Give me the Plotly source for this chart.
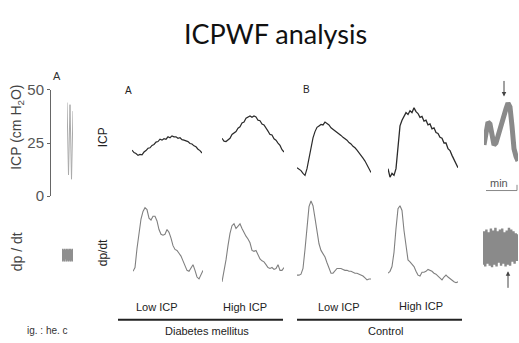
import plotly.graph_objects as go

W, H = 519, 343

# ---------------- data ----------------
TITLE = "ICPWF analysis"
GROUPS = ["Diabetes mellitus", "Control"]
CONDITIONS = ["Low ICP", "High ICP"]
PANEL_LETTERS = ["A", "B"]
LEFT_TICKS = [0, 25, 50]

# ICP waveforms (single pulse, arbitrary units, uniform sampling)
ICP_DM_LOW = [34.5, 32, 31, 29, 30, 29.5, 32.5, 34, 36.5, 37, 39.5, 40.5, 43, 43.5, 46, 45, 46.5, 46,
              48.5, 47.5, 49.5, 48.5, 48.5, 47, 47.5, 45.5, 45, 44, 43.5, 41.5, 41, 39, 38, 35.5, 34, 31.5]
ICP_DM_HIGH = [47, 44, 43.5, 45.5, 47, 51, 53, 54, 57.5, 59, 63, 64, 68, 69, 70.5, 69, 70.5, 69.5,
               66, 65.5, 62, 61, 57, 54.5, 51, 50.5, 46.5, 45, 42, 39.5, 35, 32.5]
ICP_CTRL_LOW = [16, 14.5, 13, 10, 8, 15, 27, 38, 47.5, 54, 58.5, 60, 61.5, 61, 64, 62.5, 61, 58, 56.5,
                55, 53, 51.5, 50, 48, 46.5, 45, 42.5, 41, 38.5, 37, 34.5, 32, 29.5, 26, 23, 19.5, 15, 11]
ICP_CTRL_HIGH = [15, 6, 10, 8, 15, 40, 60, 66, 70, 74, 72, 76, 74, 79, 75, 73, 69, 70, 65, 66, 61, 62,
                 57, 58, 53, 52, 48, 47, 42, 42, 36, 34, 29, 25, 20, 16]

# dp/dt waveforms
DPDT_DM_LOW = [16, 20, 40, 59, 71, 79, 83, 81, 72, 70, 74, 74, 69, 60, 55, 54, 55, 60, 57, 51, 43, 39,
               38, 35, 32, 27, 22, 17, 16, 20, 23, 17, 10, 8, 13, 17]
DPDT_DM_HIGH = [5, 15, 28, 43, 56, 64, 66, 61, 63, 66, 61, 56, 53, 50, 46, 38, 37, 38, 34, 29, 27, 26,
                23, 20, 19, 20, 18, 19, 23, 17, 17, 20]
DPDT_CTRL_LOW = [12, 12, 13, 19, 39, 62, 84, 90, 85, 72, 57, 45, 38, 35, 31, 25, 19, 14, 14, 17, 19, 19,
                 19, 18, 17, 17, 16, 16, 15, 14, 14, 13, 12, 11, 9, 7, 8, 8]
DPDT_CTRL_HIGH = [14, 16, 21, 36, 61, 82, 85, 80, 59, 40, 28, 26, 24, 21, 16, 12, 11, 15, 15, 16, 18, 17,
                  16, 14, 13, 11, 9, 7, 10, 12, 10, 8, 7, 5, 4, 5]

# compressed long-time recordings (left / right fragments)
LEFT_ICP_TRACE = [44, 10, 43, 8, 40]
LEFT_DPDT_BLOCK = [0, 10, 1, 9, 0, 10, 2, 9, 0, 10, 1, 9, 0, 10, 1, 10, 0, 9, 1, 10, 0]
RIGHT_ICP_TRACE = [22, 32, 46, 44, 32, 22, 24, 32, 38, 44, 52, 60, 66, 62, 42, 18, 10, 5]
RIGHT_DPDT_BLOCK = [3, 38, 1, 40, 4, 37, 2, 41, 0, 39, 3, 42, 1, 38, 5, 40, 2, 41, 4, 37, 1, 39, 3, 42,
                    2, 40, 6, 38, 4, 36, 7, 35]

# ---------------- layout helpers ----------------
def fx(px):
    return px / W


def fy(py):
    return 1 - py / H


fig = go.Figure()
layout = {}
n_ax = [0]

ICP_COLOR = "#2b2b2b"
DP_COLOR = "#808080"


def add_panel(values, xbox, ybox, yrange, color, width, dash="solid", yaxis_extra=None):
    n_ax[0] += 1
    i = n_ax[0]
    xa = "xaxis" if i == 1 else f"xaxis{i}"
    ya = "yaxis" if i == 1 else f"yaxis{i}"
    xr = "x" if i == 1 else f"x{i}"
    yr = "y" if i == 1 else f"y{i}"
    layout[xa] = dict(domain=[fx(xbox[0]), fx(xbox[1])], anchor=yr, visible=False,
                      range=[0, len(values) - 1], fixedrange=True)
    yd = dict(domain=[fy(ybox[1]), fy(ybox[0])], anchor=xr, visible=False,
              range=yrange, fixedrange=True)
    if yaxis_extra:
        yd.update(yaxis_extra)
    layout[ya] = yd
    fig.add_trace(go.Scatter(y=values, mode="lines", xaxis=xr, yaxis=yr,
                             line=dict(color=color, width=width, dash=dash),
                             hoverinfo="skip", showlegend=False))


ICP_ROW = (98, 183)
DP_ROW = (197, 292)
ICP_RANGE = [0, 85]
DP_RANGE = [0, 95]

add_panel(ICP_DM_LOW, (132, 202), ICP_ROW, ICP_RANGE, ICP_COLOR, 1.2)
add_panel(ICP_DM_HIGH, (222, 284), ICP_ROW, ICP_RANGE, ICP_COLOR, 1.2)
add_panel(ICP_CTRL_LOW, (297, 371), ICP_ROW, ICP_RANGE, ICP_COLOR, 1.2)
add_panel(ICP_CTRL_HIGH, (388, 458), ICP_ROW, ICP_RANGE, ICP_COLOR, 1.3)

add_panel(DPDT_DM_LOW, (133, 203), DP_ROW, DP_RANGE, DP_COLOR, 1.1)
add_panel(DPDT_DM_HIGH, (222, 284), DP_ROW, DP_RANGE, DP_COLOR, 1.1)
add_panel(DPDT_CTRL_LOW, (297, 371), DP_ROW, DP_RANGE, DP_COLOR, 1.1)
add_panel(DPDT_CTRL_HIGH, (388, 458), DP_ROW, DP_RANGE, DP_COLOR, 1.1)

# left fragment with a visible ICP axis
add_panel(LEFT_ICP_TRACE, (67, 73), (85, 197), [0, 50], "#aaaaaa", 1,
          yaxis_extra=dict(visible=True, anchor="free", position=fx(50), showline=True,
                           linecolor="#666", linewidth=1, ticks="outside", ticklen=3,
                           tickcolor="#666", tickvals=LEFT_TICKS, showgrid=False, zeroline=False,
                           tickfont=dict(family="Liberation Sans, Arial", size=15, color="#555")))
add_panel(LEFT_DPDT_BLOCK, (62, 73), (252, 266), [0, 10], "#8f8f8f", 1.8)

# right fragments
add_panel(RIGHT_ICP_TRACE, (484, 518), (95, 165), [0, 70], "#8a8a8a", 5)
add_panel(RIGHT_DPDT_BLOCK, (483, 518), (230, 272), [0, 42], "#8a8a8a", 2.4)

# ---------------- text ----------------
SANS = "Liberation Sans, Arial, sans-serif"
ann = []


def text(t, px, py, size, color="#222", angle=0, family=SANS, xanchor="center"):
    ann.append(dict(text=t, x=fx(px), y=fy(py), xref="paper", yref="paper", showarrow=False,
                    textangle=angle, xanchor=xanchor, yanchor="middle",
                    font=dict(family=family, size=size, color=color)))


text(TITLE, 275, 26, 27, color="#111", family="Lato, Carlito, sans-serif")

text("ICP (cm H<sub>2</sub>O)", 17, 125, 14, color="#444", angle=-90)
text("dp / dt", 17, 256, 14, color="#444", angle=-90)
text("A", 57, 71, 11, color="#333")
text("ig. : he. c", 47, 338, 10, color="#333")

text("ICP", 103, 135, 12, color="#222", angle=-90)
text("dp/dt", 103, 257, 12, color="#222", angle=-90)
text(PANEL_LETTERS[0], 128, 86, 10, color="#222")
text(PANEL_LETTERS[1], 306, 85, 10, color="#222")

text(CONDITIONS[0], 157, 314, 11)
text(CONDITIONS[1], 245, 314, 11)
text(CONDITIONS[0], 339, 314, 11)
text(CONDITIONS[1], 421, 312, 11)
text(GROUPS[0], 207, 339, 11)
text(GROUPS[1], 385, 339, 11)

text("min", 499, 183, 11, color="#555")

# arrows on the right fragment
ann.append(dict(x=fx(504), y=fy(92), xref="paper", yref="paper", ax=0, ay=-17, text="",
                showarrow=True, arrowhead=2, arrowsize=0.9, arrowwidth=1, arrowcolor="#444"))
ann.append(dict(x=fx(508), y=fy(276), xref="paper", yref="paper", ax=0, ay=18, text="",
                showarrow=True, arrowhead=2, arrowsize=0.9, arrowwidth=1, arrowcolor="#444"))

shapes = [
    dict(type="line", xref="paper", yref="paper", x0=fx(118), x1=fx(283), y0=fy(327), y1=fy(327),
         line=dict(color="#222", width=2)),
    dict(type="line", xref="paper", yref="paper", x0=fx(297), x1=fx(462), y0=fy(327), y1=fy(327),
         line=dict(color="#222", width=2)),
    dict(type="line", xref="paper", yref="paper", x0=fx(486), x1=fx(517), y0=fy(191), y1=fy(191),
         line=dict(color="#888", width=1)),
    dict(type="line", xref="paper", yref="paper", x0=fx(517), x1=fx(517), y0=fy(191), y1=fy(185),
         line=dict(color="#888", width=1)),
]

fig.update_layout(
    width=W, height=H,
    margin=dict(l=0, r=0, t=0, b=0),
    paper_bgcolor="white", plot_bgcolor="rgba(0,0,0,0)",
    showlegend=False,
    annotations=ann,
    shapes=shapes,
    **layout,
)

fig.write_html("out.html", config={"displayModeBar": False},
               post_script="document.body.style.margin='0';document.body.style.overflow='hidden';")
